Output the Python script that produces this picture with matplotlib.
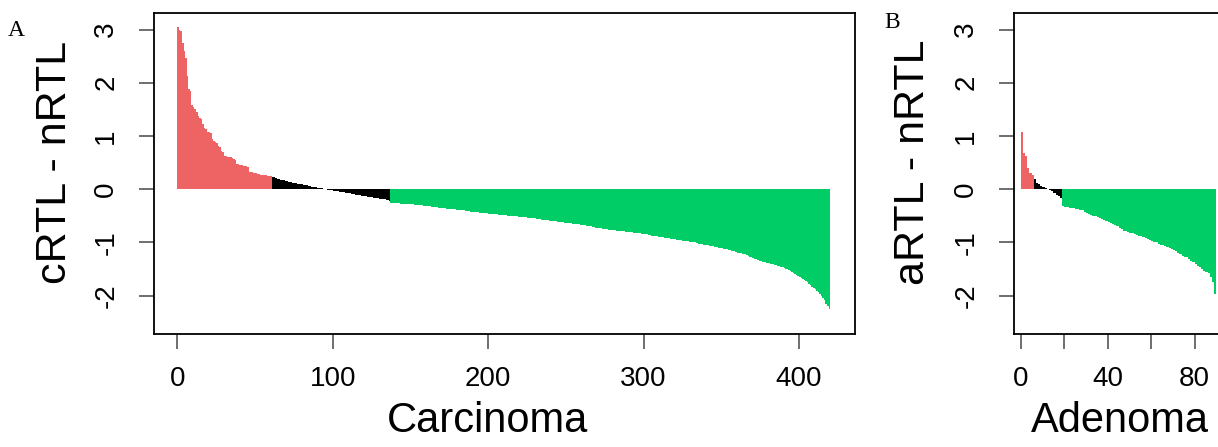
import matplotlib
matplotlib.use("Agg")
import matplotlib.pyplot as plt
import numpy as np

plt.rcParams['font.family'] = ['Liberation Sans', 'DejaVu Sans']

# ---------------- Data ----------------
# Panel A: Carcinoma, sorted cRTL - nRTL differences
carc_up = [3.05, 3.00, 2.98, 2.75, 2.60, 2.47, 2.13, 1.89, 1.84, 1.59,
           1.55, 1.50, 1.45, 1.37, 1.33, 1.31, 1.22, 1.15, 1.13, 1.08,
           1.08, 1.06, 0.94, 0.90, 0.88, 0.87, 0.81, 0.80, 0.72, 0.70,
           0.62, 0.62, 0.61, 0.60, 0.60, 0.59, 0.56, 0.55, 0.47, 0.47,
           0.46, 0.46, 0.44, 0.44, 0.43, 0.42, 0.33, 0.33, 0.32, 0.30,
           0.30, 0.29, 0.28, 0.27, 0.27, 0.26, 0.26, 0.26, 0.25, 0.25,
           0.24]
carc_mid = [0.23, 0.22, 0.21, 0.20, 0.19, 0.18, 0.17, 0.17, 0.16, 0.15,
            0.14, 0.14, 0.13, 0.12, 0.12, 0.11, 0.10, 0.10, 0.09, 0.09,
            0.08, 0.07, 0.07, 0.06, 0.06, 0.05, 0.05, 0.04, 0.04, 0.03,
            0.03, 0.02, 0.02, 0.01, 0.01,
            -0.01, -0.01, -0.02, -0.02, -0.03, -0.03, -0.04, -0.04, -0.05, -0.05,
            -0.06, -0.06, -0.07, -0.07, -0.08, -0.08, -0.09, -0.09, -0.10, -0.10,
            -0.11, -0.11, -0.12, -0.12, -0.13, -0.13, -0.14, -0.14, -0.15, -0.15,
            -0.16, -0.16, -0.17, -0.17, -0.18, -0.18, -0.19, -0.19, -0.20, -0.21,
            -0.22]
carc_down = [-0.25, -0.25, -0.26, -0.26, -0.26, -0.26, -0.27, -0.27, -0.27, -0.27,
             -0.27, -0.28, -0.28, -0.28, -0.28, -0.29, -0.29, -0.29, -0.30, -0.30,
             -0.30, -0.31, -0.31, -0.32, -0.32, -0.32, -0.33, -0.33, -0.34, -0.34,
             -0.34, -0.35, -0.35, -0.35, -0.36, -0.36, -0.37, -0.37, -0.37, -0.38,
             -0.38, -0.38, -0.39, -0.39, -0.39, -0.40, -0.40, -0.40, -0.41, -0.41,
             -0.41, -0.42, -0.42, -0.42, -0.43, -0.43, -0.43, -0.44, -0.44, -0.44,
             -0.45, -0.45, -0.45, -0.46, -0.46, -0.46, -0.47, -0.47, -0.47, -0.48,
             -0.48, -0.48, -0.49, -0.49, -0.49, -0.50, -0.50, -0.50, -0.50, -0.51,
             -0.51, -0.51, -0.52, -0.52, -0.52, -0.53, -0.53, -0.53, -0.54, -0.54,
             -0.54, -0.55, -0.55, -0.55, -0.56, -0.56, -0.56, -0.57, -0.57, -0.58,
             -0.58, -0.58, -0.59, -0.59, -0.60, -0.60, -0.60, -0.61, -0.61, -0.62,
             -0.62, -0.62, -0.63, -0.63, -0.63, -0.64, -0.64, -0.65, -0.65, -0.65,
             -0.66, -0.66, -0.67, -0.67, -0.68, -0.68, -0.69, -0.69, -0.70, -0.70,
             -0.71, -0.71, -0.72, -0.72, -0.73, -0.73, -0.74, -0.74, -0.75, -0.75,
             -0.76, -0.76, -0.77, -0.77, -0.77, -0.78, -0.78, -0.78, -0.79, -0.79,
             -0.79, -0.80, -0.80, -0.81, -0.81, -0.81, -0.82, -0.82, -0.83, -0.83,
             -0.83, -0.84, -0.84, -0.85, -0.85, -0.85, -0.86, -0.86, -0.87, -0.87,
             -0.88, -0.88, -0.89, -0.89, -0.90, -0.90, -0.91, -0.91, -0.92, -0.92,
             -0.93, -0.93, -0.94, -0.94, -0.95, -0.95, -0.96, -0.96, -0.97, -0.97,
             -0.98, -0.98, -0.99, -0.99, -1.00, -1.00, -1.00, -1.01, -1.02, -1.02,
             -1.03, -1.04, -1.04, -1.05, -1.05, -1.06, -1.07, -1.07, -1.08, -1.09,
             -1.09, -1.10, -1.10, -1.11, -1.12, -1.12, -1.13, -1.14, -1.15, -1.16,
             -1.17, -1.17, -1.18, -1.19, -1.19, -1.20, -1.21, -1.21, -1.22, -1.24,
             -1.25, -1.27, -1.28, -1.30, -1.31, -1.32, -1.33, -1.34, -1.35, -1.36,
             -1.37, -1.37, -1.38, -1.39, -1.40, -1.40, -1.41, -1.42, -1.43, -1.44,
             -1.45, -1.46, -1.47, -1.48, -1.49, -1.50, -1.52, -1.53, -1.55, -1.57,
             -1.59, -1.61, -1.63, -1.65, -1.67, -1.69, -1.71, -1.73, -1.75, -1.78,
             -1.80, -1.83, -1.85, -1.88, -1.91, -1.94, -1.97, -2.01, -2.05, -2.09,
             -2.15, -2.20, -2.25]

# Panel B: Adenoma, sorted aRTL - nRTL differences
aden_up = [1.07, 0.68, 0.62, 0.39, 0.30, 0.26]
aden_mid = [0.20, 0.12, 0.09, 0.06, 0.04, 0.02, 0.01,
            -0.02, -0.04, -0.07, -0.10, -0.13, -0.16]
aden_down = [-0.31, -0.33, -0.34, -0.35, -0.36, -0.36, -0.37, -0.38, -0.39, -0.40,
             -0.42, -0.44, -0.46, -0.48, -0.50, -0.51, -0.53, -0.54, -0.56, -0.57,
             -0.59, -0.61, -0.63, -0.66, -0.68, -0.70, -0.73, -0.75, -0.78, -0.79,
             -0.80, -0.82, -0.83, -0.84, -0.86, -0.87, -0.88, -0.90, -0.92, -0.94,
             -0.96, -0.97, -0.99, -1.00, -1.02, -1.04, -1.05, -1.07, -1.09, -1.10,
             -1.12, -1.14, -1.17, -1.19, -1.22, -1.25, -1.27, -1.28, -1.31, -1.34,
             -1.37, -1.41, -1.44, -1.47, -1.50, -1.53, -1.56, -1.58, -1.65, -1.75,
             -1.97]

yticks = [-2, -1, 0, 1, 2, 3]
xticks_a = [0, 100, 200, 300, 400]
xticks_b = [0, 20, 40, 60, 80]
xticklabels_b = ['0', '', '40', '', '80']

RED = '#EE6363'
BLACK = '#000000'
GREEN = '#00CD66'

W, H = 1218, 447
fig = plt.figure(figsize=(W / 100, H / 100), dpi=100)


def px_axes(l, t, r, b):
    return fig.add_axes([l / W, 1 - b / H, (r - l) / W, (b - t) / H])


def draw_panel(ax, up, mid, down, xlim, xticks, xticklabels, ylabel, ylabel_x,
               xlabel, xlabel_x):
    groups = [(up, RED), (mid, BLACK), (down, GREEN)]
    start = 0
    for vals, col in groups:
        x = np.arange(start, start + len(vals))
        ax.bar(x, vals, width=1.0, align='edge', color=col, linewidth=0,
               edgecolor=col, antialiased=False)
        start += len(vals)
    ax.set_xlim(*xlim)
    ax.set_ylim(-2.72, 3.31)
    ax.set_yticks(yticks)
    ax.set_yticklabels([str(v) for v in yticks], rotation=90, va='center',
                       fontsize=20)
    ax.set_xticks(xticks)
    ax.set_xticklabels(xticklabels, fontsize=20)
    ax.tick_params(axis='both', direction='out', length=11, width=1.2,
                   color='#555555')
    ax.tick_params(axis='y', pad=14)
    ax.tick_params(axis='x', pad=12)
    for s in ax.spines.values():
        s.set_linewidth(1.3)
        s.set_color('black')
    ax.set_ylabel(ylabel, fontsize=31)
    ax.yaxis.set_label_coords(ylabel_x, 0.535)
    ax.set_xlabel(xlabel, fontsize=30)
    ax.xaxis.set_label_coords(xlabel_x, -0.21)


axA = px_axes(154, 13, 855, 334)
draw_panel(axA, carc_up, carc_mid, carc_down, (-15.0, 436.0),
           xticks_a, [str(v) for v in xticks_a], 'cRTL - nRTL', -0.112,
           'Carcinoma', 0.476)

axB = px_axes(1014, 13, 1225, 334)
draw_panel(axB, aden_up, aden_mid, aden_down, (-3.1, 94.0),
           xticks_b, xticklabels_b, 'aRTL - nRTL', -0.385, 'Adenoma', 0.5)

fig.text(8 / W, 1 - 30 / H, 'A', fontsize=17, family='Liberation Serif',
         va='center', ha='left')
fig.text(884 / W, 1 - 22 / H, 'B', fontsize=17, family='Liberation Serif',
         va='center', ha='left')

fig.savefig('out.png', dpi=100)
